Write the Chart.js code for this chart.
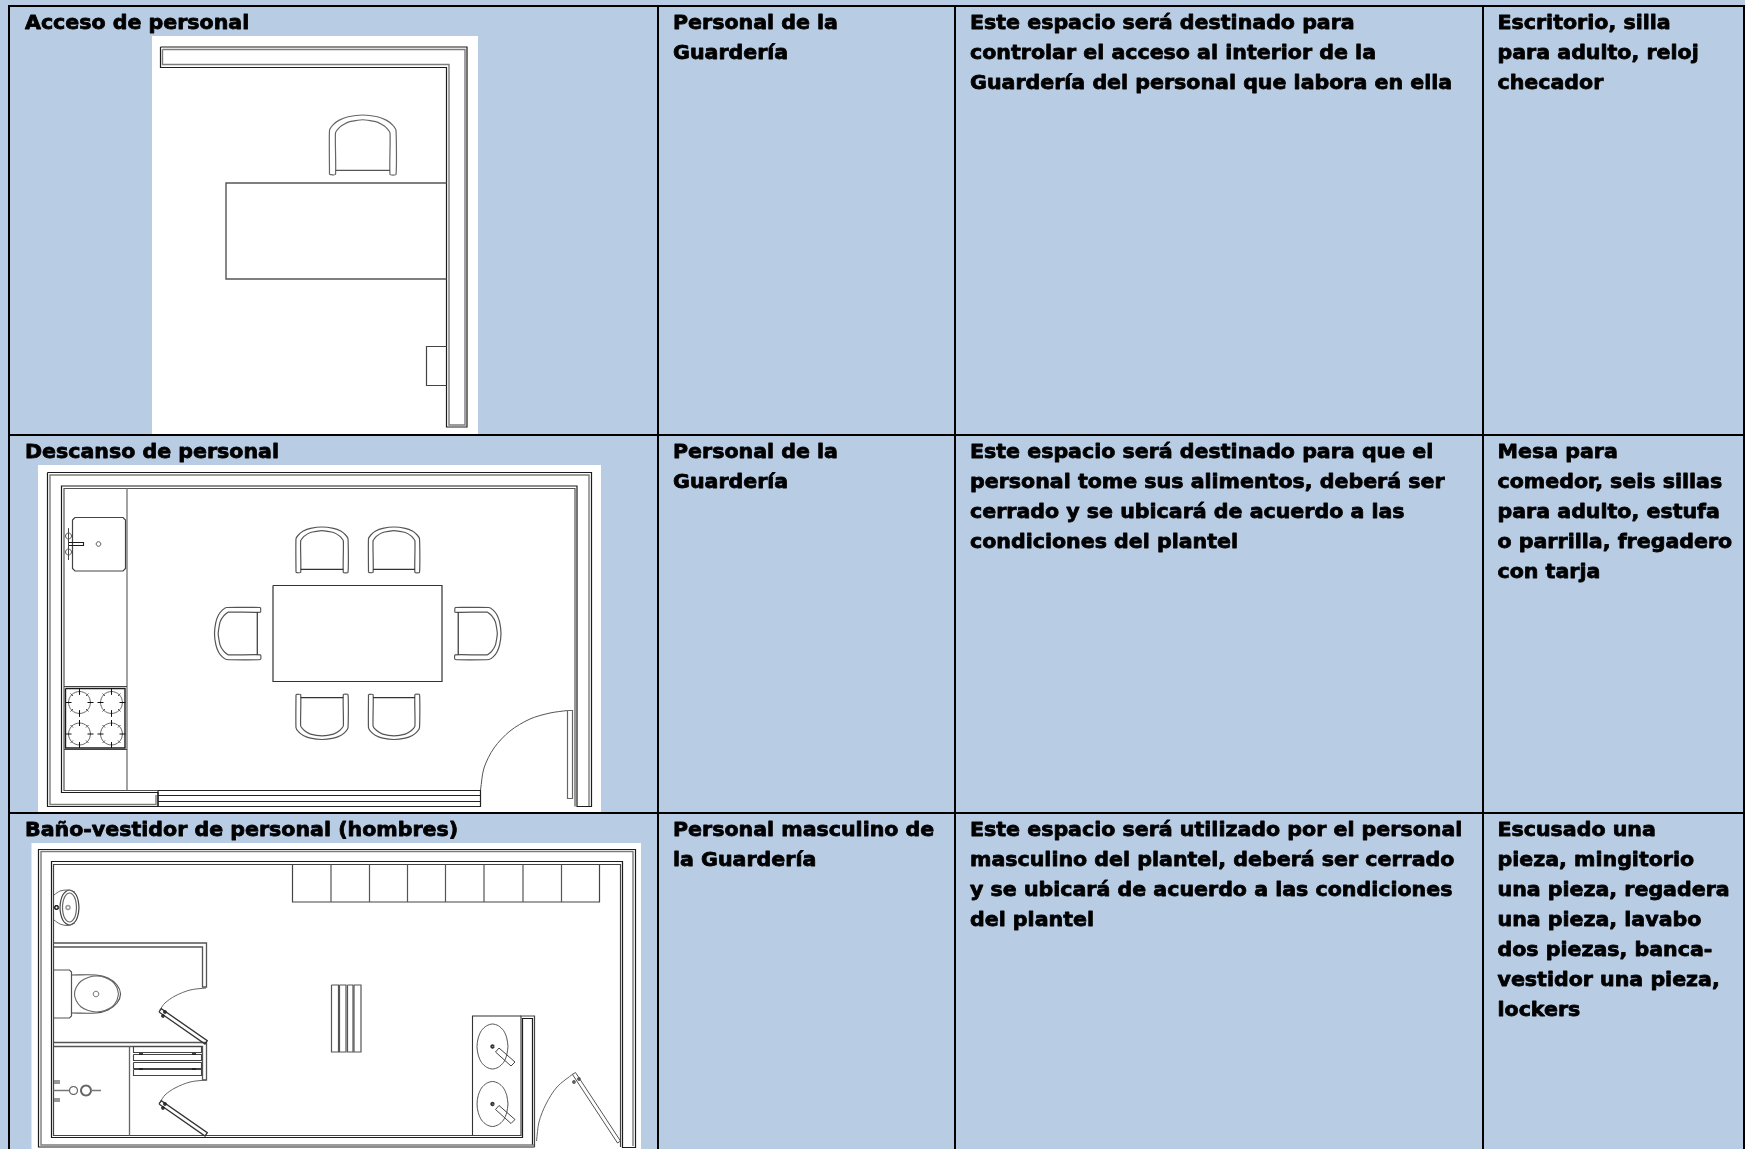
<!DOCTYPE html>
<html lang="es"><head><meta charset="utf-8">
<title>Guardería</title>
<style>html,body{margin:0;padding:0;background:#b8cce4;overflow:hidden}canvas{display:block}</style>
<script src="https://cdn.jsdelivr.net/npm/chart.js@4"></script>
</head><body>
<canvas id="c" width="1745" height="1149"></canvas>
<script>
// ---- table text ----
const spaceNames = [["Acceso de personal"],["Descanso de personal"],["Baño-vestidor de personal (hombres)"]];
const users = [["Personal de la","Guardería"],["Personal de la","Guardería"],["Personal masculino de","la Guardería"]];
const descriptions = [
 ["Este espacio será destinado para","controlar el acceso al interior de la","Guardería del personal que labora en ella"],
 ["Este espacio será destinado para que el","personal tome sus alimentos, deberá ser","cerrado y se ubicará de acuerdo a las","condiciones del plantel"],
 ["Este espacio será utilizado por el personal","masculino del plantel, deberá ser cerrado","y se ubicará de acuerdo a las condiciones","del plantel"]];
const furniture = [
 ["Escritorio, silla","para adulto, reloj","checador"],
 ["Mesa para","comedor, seis sillas","para adulto, estufa","o parrilla, fregadero","con tarja"],
 ["Escusado una","pieza, mingitorio","una pieza, regadera","una pieza, lavabo","dos piezas, banca-","vestidor una pieza,","lockers"]];
const columnTextX = [25, 673, 970, 1497.5];
const rowBaselineY = [29, 458, 836];
const lineStep = 30;
const gridX = [9, 658, 955, 1483, 1744];
const gridY = [6, 435, 813];
const pageBottom = 1149;

// ---- shared shapes ----
const SEP = {x:null,y:null};
function GAP(){return [null,null];}
const unitCircle = [[1,0],[.92,.38],[.71,.71],[.38,.92],[0,1],[-.38,.92],[-.71,.71],[-.92,.38],[-1,0],[-.92,-.38],[-.71,-.71],[-.38,-.92],[0,-1],[.38,-.92],[.71,-.71],[.92,-.38],[1,0]];
const chairOuter = [[0,1],[0,.26],[.05,.17],[.14,.09],[.28,.03],[.5,0],[.72,.03],[.86,.09],[.95,.17],[1,.26],[1,1],[.91,1],[.91,.3],[.84,.2],[.72,.12],[.5,.08],[.28,.12],[.16,.2],[.09,.3],[.09,1],[0,1]];
const chairBar = [[.09,.93],[.91,.93]];

function rect(a,b,c,d){return [[a,b],[c,b],[c,d],[a,d],[a,b]];}
function ell(cx,cy,rx,ry){return unitCircle.map(u=>[cx+u[0]*rx,cy+u[1]*ry]);}
function chair(a,b,c,d,dir,shape){return shape.map(([u,v])=>{const W=c-a,H=d-b;
  if(dir==='up')return [a+u*W,b+v*H];
  if(dir==='down')return [a+u*W,d-v*H];
  if(dir==='left')return [a+v*W,b+u*H];
  return [c-v*W,b+u*H];});}

// ---- room 1: acceso ----
const panel1 = rect(152,36,478,434);
const wall1Outer = [[160.5,47],[467,47],[467,427],[446.5,427],[446.5,67.5],[160.5,67.5],[160.5,47]];
const wall1Inner = [[162.5,49.5],[465,49.5],[465,425],[449,425],[449,64.5],[162.5,64.5],[162.5,49.5]];
const desk1 = [[446.5,183],[226,183],[226,279],[446.5,279]];
const box1 = [[446.5,346.5],[426.5,346.5],[426.5,385.5],[446.5,385.5]];

// ---- room 2: descanso ----
const panel2 = rect(38,465,601,812);
const wall2A = [[47.5,472.5],[591.5,472.5],[591.5,806.5],[577,806.5],[577,486],[61.5,486],[61.5,792.5],[158,792.5],[158,806.5],[47.5,806.5],[47.5,472.5]];
const wall2B = [[589,806],[589,475],[50,475],[50,804.5],[156,804.5],[156,795]];
const wall2C = [[575,806.5],[575,488.5],[64,488.5],[64,790.5],[158,790.5]];
const counter2 = [[127,488.5],[127,790]];
const counterLines2 = [[64,686.5],[127,686.5],GAP(),[64,749.5],[127,749.5]];
const stove2 = rect(65.5,688.5,125,748);
const sink2 = [[75,517.5],[123,517.5],[125.5,520],[125.5,568.5],[123,571],[75,571],[72.5,568.5],[72.5,520],[75,517.5]];
const faucet2 = [[68.5,542.5],[83.5,542.5],[83.5,545.5],[68.5,545.5]];
const faucetBar2 = [[68.5,528.5],[68.5,560]];
const window2 = [[158,790.5],[480.5,790.5],[480.5,806.5],[158,806.5],[158,790.5],GAP(),[158,795.5],[480.5,795.5],GAP(),[158,801.5],[480.5,801.5]];
const doorArc2 = [[480.5,790],[484,768],[494,748],[510,731],[530,719],[550,713],[567.5,710.5]];
const doorLeaf2 = rect(567.5,710.5,572.5,798.5);
const table2 = rect(273,585.5,442,681.5);
const burnerCenters = [[79.5,702.5],[111.5,702.5],[79.5,734],[111.5,734]];

// ---- room 3: baño ----
const panel3 = rect(31.5,843,641,1152);
const wall3Outer = [[534.5,1147],[38.5,1147],[38.5,849.5],[635.5,849.5],[635.5,1147.5],[622.5,1147.5],[622.5,861.5],[51.5,861.5],[51.5,1137.5],[522.5,1137.5],[522.5,1018.5],[532.5,1018.5],[532.5,1145]];
const wall3Inner = [[534.5,1145],[41,1145],[41,851.5],[633,851.5],[633,1146]];
const wall3Room = [[620.5,1147],[620.5,864.5],[53.5,864.5],[53.5,1135.5],[521,1135.5],[521,1016],[534.5,1016],[534.5,1147]];
const lockerX = [292.5,331,369.5,407.5,445.5,484,523,561.5,599.5];
const lockersTop = 864.5, lockersBottom = 902;
const urinalRim = ell(69.5,907.5,9.5,17.5), urinalBowl = ell(69.5,907.5,7,14.5);
const urinalBack = [[54,895],[60,891],[68,890],[75,892]];
const urinalBack2 = [[54,920],[60,924],[68,925.5],[75,923]];
const partition1 = [[53.5,943],[206.5,943],[206.5,987],[202.5,987],[202.5,947],[53.5,947]];
const partition2 = [[53.5,1042.5],[206.5,1042.5],[206.5,1080],[202.5,1080],[202.5,1046.5],[53.5,1046.5]];
const tank3 = [[53.5,970],[69.5,970],[71.5,972],[71.5,1016],[69.5,1018],[53.5,1018]];
const bowl3Outer = [[71.5,975],[96,975],[108,978],[117,985],[120.5,994],[117,1003],[108,1010],[96,1013],[71.5,1013]];
const bowl3Inner = ell(96.5,994,22,18);
const doorArc3a = [[206,988],[190,990],[175,996],[165,1003],[159.5,1010.5]];
const doorArc3b = [[206,1080],[190,1082],[175,1088],[165,1095],[159.5,1103]];
const leaf3a = [[159,1012],[161.3,1008.7],[207.3,1040.7],[205,1044],[159,1012]];
const leaf3b = [[159,1104],[161.3,1100.7],[207.3,1132.7],[205,1136],[159,1104]];
const divider3 = [[129.5,1046.5],[129.5,1135.5]];
const benchRows = [[1046.5,1052.5],[1054.5,1060.5],[1062.5,1068.5],[1069.5,1075.5]];
const benchX = [133.5,201.5];
const slats = [[331.5,338.5],[339.5,346],[347.5,353],[354,361]];
const slatY = [985,1052];
const shower3 = [[53.5,1090.5],[69,1090.5],GAP(),[91.5,1090.5],[101,1090.5],GAP(),[54,1081],[60,1081],GAP(),[54,1083],[60,1083],GAP(),[54,1099],[60,1099],GAP(),[54,1101],[60,1101]];
const vanity3 = [[521,1016],[472.5,1016],[472.5,1135.5]];
const basinCenters = [[492.5,1046.5],[492.5,1104]];
const tapA = [[495.5,1052],[499,1048],[515,1062],[511,1066],[495.5,1052]];
const tapB = [[495.5,1109.5],[499,1105.5],[515,1119.5],[511,1123.5],[495.5,1109.5]];
const doorArc3c = [[536.5,1141],[539,1122],[546,1104],[557,1087],[573.5,1073.5]];
const leaf3c = [[572.5,1074.5],[575.5,1072.5],[620.5,1141],[617.5,1143],[572.5,1074.5]];

// ---- build datasets (later additions are painted on top) ----
const datasets = [];
function add(points,color,width,opt){opt=opt||{};
  datasets.push({data:points.map(p=>p&&p[0]!==null?{x:p[0],y:p[1]}:SEP),showLine:true,pointRadius:0,borderColor:color,borderWidth:width,
    tension:opt.t||0,fill:opt.fill?'shape':false,backgroundColor:opt.fill||'transparent',borderJoinStyle:'miter',borderCapStyle:'butt',order:-datasets.length});}

const DARK='#1c1c1c', GREY='#7c7c7c', BLACK='#000000', WHITE='#ffffff';
[panel1,panel2,panel3].forEach(p=>add(p,WHITE,0,{fill:WHITE}));

// room 1
add(wall1Outer,DARK,1.2); add(wall1Inner,GREY,1.4); add(desk1,'#555',1.4); add(box1,'#444',1.2);
add(chair(329.5,115,396,174.5,'up',chairOuter),'#666',1.2,{t:.15}); add(chair(329.5,115,396,174.5,'up',chairBar),'#555',1.4);

// room 2
add(wall2A,DARK,1.2); add(wall2B,GREY,1.4); add(wall2C,'#555',1.2); add(counter2,GREY,1.4);
add(counterLines2,'#444',1.2); add(stove2,DARK,1.4); add(sink2,'#444',1.2); add(faucet2,DARK,1.1); add(faucetBar2,'#444',1);
add(ell(98.5,544,2.3,2.3),'#555',1,{t:.3}); add(ell(68.5,536,3,3),'#555',1,{t:.3}); add(ell(68.5,552,3,3),'#555',1,{t:.3});
add(window2,'#222',1.2); add(doorArc2,'#555',1,{t:.3}); add(doorLeaf2,'#666',1.2); add(table2,'#333',1.2);
[[296,527,348,572.5,'up'],[368.5,527,419.5,572.5,'up'],[296,694.5,348,739.5,'down'],[368.5,694.5,419.5,739.5,'down'],[214.5,607.5,260.5,659.5,'left'],[455,607.5,501,659.5,'right']].forEach(c=>{
  add(chair(c[0],c[1],c[2],c[3],c[4],chairOuter),'#555',1.2,{t:.15}); add(chair(c[0],c[1],c[2],c[3],c[4],chairBar),'#333',1.2);
});
burnerCenters.forEach(([x,y])=>{
  add(ell(x,y,11,11),'#666',1,{t:.3});
  add([[x-14,y],[x-8,y],GAP(),[x+8,y],[x+14,y],GAP(),[x,y-14],[x,y-8],GAP(),[x,y+8],[x,y+14]],'#111',1);
  add([[x-9,y-9],[x-6.5,y-6.5],GAP(),[x+9,y-9],[x+6.5,y-6.5],GAP(),[x-9,y+9],[x-6.5,y+6.5],GAP(),[x+9,y+9],[x+6.5,y+6.5]],'#555',1);
});

// room 3
add(wall3Outer,DARK,1.2); add(wall3Inner,GREY,1.4); add(wall3Room,'#444',1.2);
add([[lockerX[0],lockersTop],[lockerX[0],lockersBottom],[lockerX[8],lockersBottom],[lockerX[8],lockersTop]],'#444',1.2);
lockerX.slice(1,8).forEach(x=>add([[x,lockersTop],[x,lockersBottom]],'#555',1.2));
add(urinalRim,'#444',1.2,{t:.3}); add(urinalBowl,'#666',1.2,{t:.3}); add(urinalBack,'#666',1,{t:.3}); add(urinalBack2,'#666',1,{t:.3});
add(ell(56.5,907.5,1.8,1.8),'#222',1.6,{t:.3}); add(ell(68,907.5,2,2),'#999',1.6,{t:.3});
add(partition1,'#555',1.3); add(partition2,'#555',1.3);
add(tank3,'#555',1.2); add(bowl3Outer,'#555',1.2,{t:.3}); add(bowl3Inner,'#666',1.1,{t:.3}); add(ell(96,994,2.8,2.8),'#777',1,{t:.3});
add(doorArc3a,'#666',1,{t:.3}); add(doorArc3b,'#666',1,{t:.3}); add(leaf3a,'#333',1.3); add(leaf3b,'#333',1.3);
add(ell(165,1012,1.1,1.1),'#222',1.5,{t:.3}); add(ell(163,1016,1.1,1.1),'#222',1.5,{t:.3});
add(ell(165,1104,1.1,1.1),'#222',1.5,{t:.3}); add(ell(163,1108,1.1,1.1),'#222',1.5,{t:.3});
add(divider3,'#666',1.3);
benchRows.forEach(r=>{add(rect(benchX[0],r[0],benchX[1],r[1]),'#444',1.1);});
add([[140,1053],[140,1055],GAP(),[142,1053],[142,1055],GAP(),[193,1053],[193,1055],GAP(),[195,1053],[195,1055],GAP(),[140,1068],[140,1070],GAP(),[142,1068],[142,1070],GAP(),[193,1068],[193,1070],GAP(),[195,1068],[195,1070]],'#222',1);
slats.forEach(s=>add(rect(s[0],slatY[0],s[1],slatY[1]),'#555',1.2));
add(ell(73.5,1090.5,4,4),'#666',1.2,{t:.3}); add(ell(86,1090.5,5,5),'#666',2,{t:.3}); add(shower3,'#777',1.3);
add(vanity3,'#333',1.1);
basinCenters.forEach(([x,y])=>{add(ell(x,y,15.5,22.5),'#555',1,{t:.3}); add(ell(x,y,1.3,1.3),'#333',1.8,{t:.3});});
add(tapA,'#444',1); add(tapB,'#444',1);
add(doorArc3c,'#666',1,{t:.3}); add(leaf3c,'#555',1);
add(ell(574,1082,1.1,1.1),'#555',1.6,{t:.3}); add(ell(579,1079,1.1,1.1),'#555',1.6,{t:.3});

// table rules on top
gridX.forEach(x=>add([[x,gridY[0]-1],[x,pageBottom]],BLACK,2));
gridY.forEach(y=>add([[gridX[0],y],[gridX[4]+1,y]],BLACK,2));

// text drawn through the chart's scales
const textWidthScale = 1.028;
const cellText = {id:'cellText',afterDatasetsDraw(chart){
  const {ctx,scales:{x,y}}=chart; ctx.save();
  ctx.fillStyle='#000'; ctx.strokeStyle='#000'; ctx.lineWidth=0.8; ctx.lineJoin='round';
  ctx.textBaseline='alphabetic'; ctx.font='bold 20px "DejaVu Sans"';
  [spaceNames,users,descriptions,furniture].forEach((col,c)=>col.forEach((lines,r)=>lines.forEach((t,i)=>{
    ctx.save();
    ctx.translate(x.getPixelForValue(columnTextX[c]),y.getPixelForValue(rowBaselineY[r]+i*lineStep));
    ctx.scale(textWidthScale,1);
    ctx.fillText(t,0,0); ctx.strokeText(t,0,0);
    ctx.restore();
  })));
  ctx.restore();
}};

new Chart(document.getElementById('c'),{type:'scatter',data:{datasets},plugins:[cellText],options:{
  responsive:false,animation:false,events:[],layout:{padding:0},
  plugins:{legend:{display:false},tooltip:{enabled:false},title:{display:false}},
  scales:{x:{type:'linear',min:0,max:1745,display:false},y:{type:'linear',min:0,max:1149,reverse:true,display:false}}
}});
</script>
</body></html>
